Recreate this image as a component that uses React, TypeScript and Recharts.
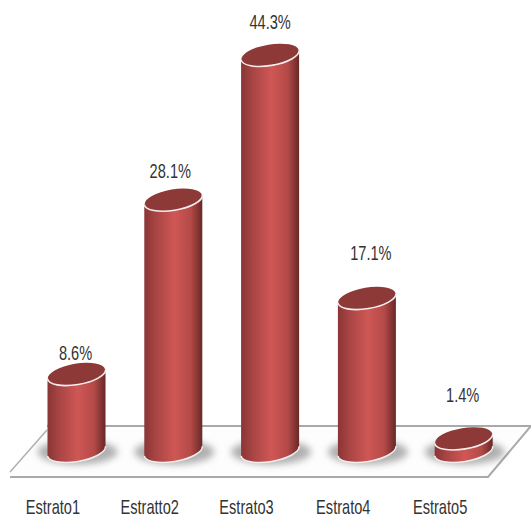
import React from 'react';
import { BarChart, Bar, XAxis, YAxis, LabelList, Customized } from 'recharts';

const categories = ['Estrato1', 'Estratto2', 'Estrato3', 'Estrato4', 'Estrato5'];
const shares = [8.6, 28.1, 44.3, 17.1, 1.4];

const chartData = categories.map((name, i) => ({ name, share: shares[i] }));

const TILT = 9.5;
const RY = 10.4;

// hand placed label gaps, the source chart did not keep them constant
const labelGap: Record<string, { dx: number; dy: number }> = {
  Estrato1: { dx: -1, dy: 21 },
  Estratto2: { dx: -3, dy: 29 },
  Estrato3: { dx: 0, dy: 33 },
  Estrato4: { dx: 4, dy: 45 },
  Estrato5: { dx: -1, dy: 43 },
};

// no narrow font is installed, so squeeze Liberation Sans sideways
const NarrowText = ({ x, y, children }: any) => (
  <text
    transform={`translate(${x} ${y}) scale(0.73 1)`}
    textAnchor="middle"
    dominantBaseline="central"
    fontFamily='"Liberation Sans", sans-serif'
    fontSize={20}
    fill="#333"
  >
    {children}
  </text>
);

const Floor = () => (
  <g>
    <polygon points="10,477 47,426 531,426 488,477" fill="#fdfdfd" />
    <polyline points="10,472 47,430" fill="none" stroke="#b0b0b0" strokeWidth={1.5} />
    <polyline points="47,426 531,426 488,477 10,477" fill="none" stroke="#a9a9a9" strokeWidth={2} />
  </g>
);

const Cylinder = (props: any) => {
  const { x, y, width, height } = props;
  const cx = x + width / 2;
  const bottom = y + height;
  const rad = (TILT * Math.PI) / 180;
  const rx = width / 2;
  const dy = rx * Math.sin(rad);
  const left = cx - rx;
  const right = cx + rx;
  const arc = `A${rx} ${RY} ${-TILT} 0 0`;
  return (
    <g>
      <ellipse cx={cx + 1} cy={bottom + 1} rx={rx + 11} ry={RY + 2} fill="#7c7c7c" opacity={0.6} filter="url(#floorShadow)" />
      <path
        d={`M${left} ${y + dy} L${left} ${bottom + dy} ${arc} ${right} ${bottom - dy} L${right} ${y - dy} Z`}
        fill="url(#barBody)"
      />
      <path d={`M${left} ${bottom + dy} ${arc} ${right} ${bottom - dy}`} fill="none" stroke="#f2eeee" strokeWidth={1.5} />
      <ellipse cx={cx} cy={y} rx={rx} ry={RY} fill="#8d3937" transform={`rotate(${-TILT} ${cx} ${y})`} />
      <path d={`M${left} ${y + dy} ${arc} ${right} ${y - dy}`} fill="none" stroke="#f6eeee" strokeWidth={1.6} />
    </g>
  );
};

const ShareLabel = (props: any) => {
  const { x, y, width, value, index } = props;
  const gap = labelGap[categories[index]];
  return <NarrowText x={x + width / 2 + gap.dx} y={y - gap.dy}>{`${value}%`}</NarrowText>;
};

// the category names sit left of their bars in the source
const CategoryTick = ({ x, payload }: any) => <NarrowText x={x - 24} y={507}>{payload.value}</NarrowText>;

export default function App() {
  return (
    <div style={{ position: 'absolute', left: 0, top: 0, width: 531, height: 519, background: '#fff' }}>
      <BarChart
        width={531}
        height={519}
        data={chartData}
        margin={{ top: 4, right: 18.5, left: 28.5, bottom: 0 }}
      >
        <defs>
          <linearGradient id="barBody" x1="0" y1="0" x2="1" y2="0">
            <stop offset="0%" stopColor="#8a3534" />
            <stop offset="20%" stopColor="#a84544" />
            <stop offset="52%" stopColor="#cf5755" />
            <stop offset="80%" stopColor="#b44a48" />
            <stop offset="100%" stopColor="#672826" />
          </linearGradient>
          <filter id="floorShadow" x="-30%" y="-60%" width="160%" height="220%">
            <feGaussianBlur stdDeviation="3.5" />
          </filter>
        </defs>
        <Customized component={Floor} />
        <XAxis
          dataKey="name"
          height={68}
          axisLine={false}
          tickLine={false}
          interval={0}
          tick={<CategoryTick />}
        />
        <YAxis hide domain={[0, 50]} />
        <Bar dataKey="share" barSize={58} shape={<Cylinder />} isAnimationActive={false}>
          <LabelList dataKey="share" content={<ShareLabel />} />
        </Bar>
      </BarChart>
    </div>
  );
}
